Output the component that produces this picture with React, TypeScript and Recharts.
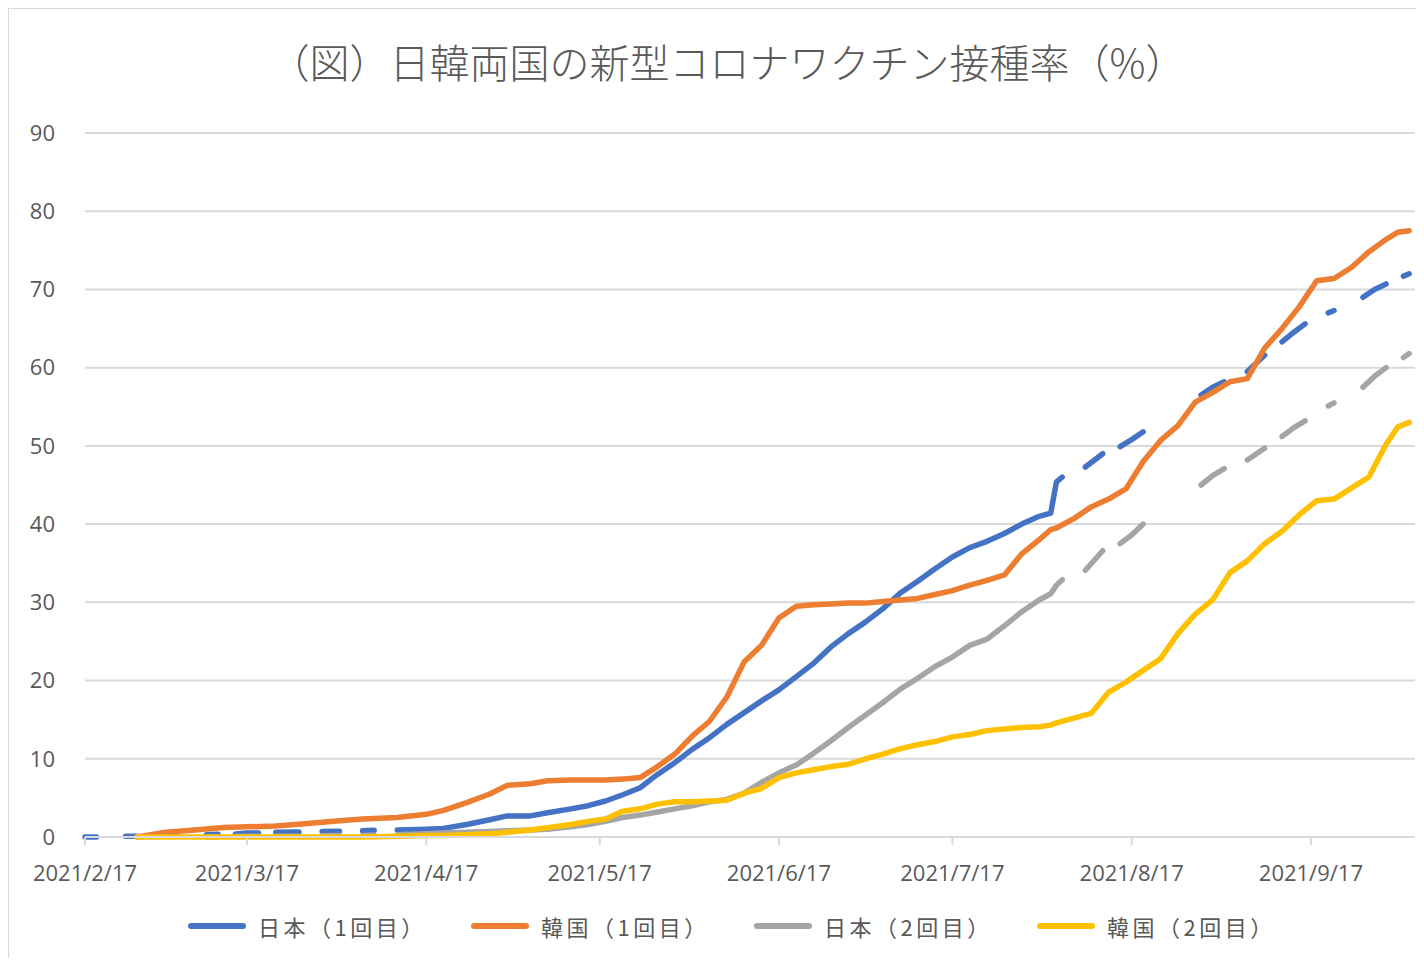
import React from 'react'
import { LineChart, Line, XAxis, YAxis, CartesianGrid } from 'recharts'

// days since 2021/2/17. Japan has missing days (null) which show as gaps.
const jpDays = [
  0, 2, 4, 7, 9, 11, 14, 16, 18, 21, 23, 25, 26, 28, 30, 31, 33, 37, 39, 41, 44, 46, 48, 50, 52,
  54, 59, 62, 66, 70, 73, 77, 80, 84, 87, 90, 93, 96, 99, 102, 105, 108, 111, 114, 117, 120, 123,
  126, 129, 132, 135, 138, 141, 144, 147, 150, 153, 156, 159, 162, 165, 167, 168, 169,
  171, 173, 176, 177, 179, 181, 183, 186, 193, 195, 197, 199, 201, 204, 205, 207, 209, 211, 213,
  215, 216, 218, 221, 223, 225, 227, 228, 229,
]

const japan1 = [
  0, 0, null, 0.1, 0.1, null, 0.2, 0.25, null, 0.3, 0.35, null, 0.4, 0.5, 0.5, null, 0.6, 0.65, null,
  0.7, 0.75, null, 0.8, 0.85, null,
  0.9, 1.0, 1.1, 1.6, 2.2, 2.7, 2.7, 3.1, 3.6, 4.0, 4.6, 5.4, 6.3, 8.0, 9.5, 11.2, 12.7, 14.4, 15.9,
  17.4, 18.8, 20.5, 22.2, 24.3, 26.0, 27.5, 29.2, 31.2, 32.7, 34.3, 35.8, 37.0, 37.8, 38.8, 40.0,
  41.0, 41.4, 45.4, 46.0,
  null, 47.3, 49.0, null, 49.9, 50.8, 51.8, null, 56.5, 57.5, 58.2, null, 59.5, 61.6, null, 63.3,
  64.5, 65.6, null, 67.0, 67.3, null, 69.0, 70.0, 70.7, null, 71.7, 72.0,
]

const japan2 = [
  null, null, null, null, null, null, null, null, null, 0, 0, null, 0.05, 0.1, 0.1, null, 0.1, 0.1,
  null, 0.15, 0.2, null, 0.2, 0.25, null,
  0.3, 0.4, 0.5, 0.6, 0.7, 0.8, 0.9, 1.0, 1.3, 1.6, 2.0, 2.5, 2.8, 3.2, 3.6, 4.0, 4.5, 4.8, 5.6, 7.0,
  8.2, 9.2, 10.7, 12.3, 14.0, 15.6, 17.2, 18.9, 20.3, 21.8, 23.0, 24.5, 25.3, 27.0, 28.8, 30.3,
  31.1, 32.2, 32.9,
  null, 34.1, 36.6, null, 37.5, 38.6, 40.0, null, 45.0, 46.2, 47.1, null, 48.2, 49.7, null, 51.2,
  52.3, 53.2, null, 55.1, 55.5, null, 57.5, 58.9, 60.0, null, 61.3, 61.8,
]

const krDays = [
  9, 14, 19, 24, 28, 33, 38, 43, 48, 54, 59, 62, 66, 70, 73, 77, 80, 84, 87, 90, 93, 96, 99, 102,
  105, 108, 111, 114, 117, 120, 123, 126, 129, 132, 135, 138, 141, 144, 147, 150, 153, 156, 159,
  162, 165, 167, 168, 171, 174, 177, 180, 183, 186, 189, 192, 195, 198, 201, 204, 207, 210, 213,
  216, 219, 222, 225, 227, 229,
]

const korea1 = [
  0, 0.6, 0.9, 1.2, 1.3, 1.4, 1.7, 2.0, 2.3, 2.5, 2.9, 3.4, 4.4, 5.5, 6.6, 6.8, 7.2, 7.3, 7.3, 7.3,
  7.4, 7.6, 9.0, 10.6, 12.9, 14.8, 17.9, 22.4, 24.5, 28.0, 29.5, 29.7, 29.8, 29.9, 29.9, 30.1, 30.3,
  30.5, 31.0, 31.5, 32.2, 32.8, 33.5, 36.2, 38.0, 39.3, 39.5, 40.7, 42.2, 43.2, 44.5, 48.0, 50.7,
  52.6, 55.6, 56.8, 58.2, 58.6, 62.5, 65.0, 67.8, 71.1, 71.4, 72.8, 74.8, 76.4, 77.3, 77.5,
]

const korea2 = [
  0, 0, 0, 0, 0, 0, 0, 0, 0, 0.1, 0.2, 0.2, 0.3, 0.4, 0.6, 0.9, 1.2, 1.6, 2.0, 2.3, 3.3, 3.6, 4.2,
  4.5, 4.5, 4.6, 4.7, 5.6, 6.2, 7.6, 8.2, 8.6, 9.0, 9.3, 10.0, 10.6, 11.3, 11.8, 12.2, 12.8, 13.1,
  13.6, 13.8, 14.0, 14.1, 14.3, 14.6, 15.2, 15.8, 18.5, 19.8, 21.3, 22.8, 26.0, 28.5, 30.3, 33.8,
  35.3, 37.5, 39.1, 41.2, 43.0, 43.2, 44.6, 46.0, 50.2, 52.4, 53.0,
]

const xTicks = [0, 28, 59, 89, 120, 150, 181, 212]
const yTicks = [0, 10, 20, 30, 40, 50, 60, 70, 80, 90]

const series = [
  { key: 'j1', name: '日本（1回目）', color: '#4472C4', days: jpDays, values: japan1 },
  { key: 'k1', name: '韓国（1回目）', color: '#ED7D31', days: krDays, values: korea1 },
  { key: 'j2', name: '日本（2回目）', color: '#A5A5A5', days: jpDays, values: japan2 },
  { key: 'k2', name: '韓国（2回目）', color: '#FFC000', days: krDays, values: korea2 },
]

const BASE = Date.UTC(2021, 1, 17)
const fmtDate = (d: number) => {
  const dt = new Date(BASE + d * 86400000)
  return `2021/${dt.getUTCMonth() + 1}/${dt.getUTCDate()}`
}

const textColor = '#595959'
const gridColor = '#d9d9d9'
const tickFont = { fill: textColor, fontSize: 22, fontFamily: "'Open Sans', sans-serif" }

export default function App() {
  return (
    <div
      style={{
        position: 'relative',
        width: 1415,
        height: 949,
        borderTop: `1px solid ${gridColor}`,
        borderLeft: `1px solid ${gridColor}`,
        background: '#fff',
        fontFamily: "'Noto Sans CJK JP', sans-serif",
      }}
    >
      <div
        style={{
          position: 'absolute',
          top: 27,
          left: 11,
          width: '100%',
          textAlign: 'center',
          fontSize: 40,
          lineHeight: '50px',
          color: textColor,
          fontWeight: 300,
        }}
      >
        （図）日韓両国の新型コロナワクチン接種率（%）
      </div>

      <LineChart width={1415} height={880} margin={{ top: 124, right: 9, bottom: 2, left: 0 }}>
        <CartesianGrid vertical={false} stroke={gridColor} strokeWidth={2} />
        <XAxis
          dataKey="day"
          type="number"
          domain={[0, 230]}
          ticks={xTicks}
          tickFormatter={fmtDate}
          interval={0}
          height={50}
          tick={tickFont}
          stroke={gridColor}
          strokeWidth={2}
          tickSize={8}
          tickMargin={20}
          allowDuplicatedCategory={false}
        />
        <YAxis
          domain={[0, 90]}
          ticks={yTicks}
          width={76}
          axisLine={false}
          tickLine={false}
          tickSize={0}
          tickMargin={30}
          tick={tickFont}
        />
        {series.map((s) => (
          <Line
            key={s.key}
            data={s.days.map((d, i) => ({ day: d, v: s.values[i] }))}
            dataKey="v"
            name={s.name}
            stroke={s.color}
            strokeWidth={5.5}
            strokeLinecap="round"
            strokeLinejoin="round"
            dot={false}
            isAnimationActive={false}
          />
        ))}
      </LineChart>

      <div style={{ position: 'absolute', top: 902, left: 179, display: 'flex' }}>
        {series.map((s) => (
          <div key={s.key} style={{ width: 283, display: 'flex', alignItems: 'center' }}>
            <span
              style={{
                display: 'inline-block',
                width: 58,
                height: 6,
                borderRadius: 3,
                background: s.color,
                marginRight: 12,
              }}
            />
            <span style={{ fontSize: 22, letterSpacing: 3.5, color: textColor, lineHeight: '30px' }}>
              {s.name}
            </span>
          </div>
        ))}
      </div>
    </div>
  )
}
